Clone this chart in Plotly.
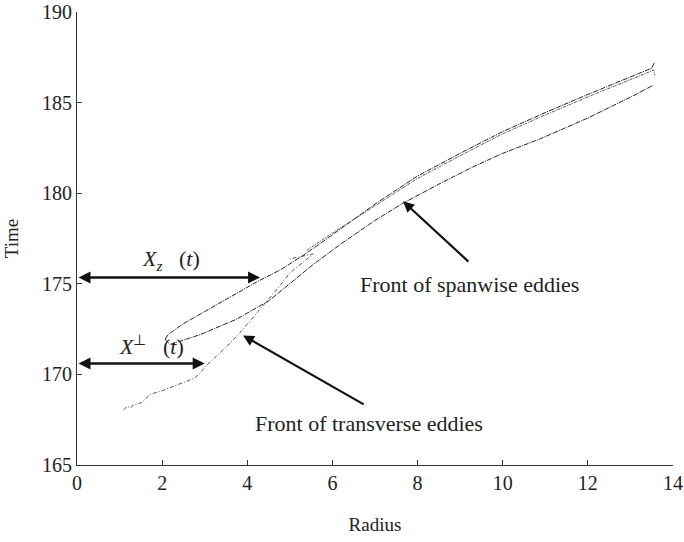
import plotly.graph_objects as go

# Front of transverse eddies (thin dashed curve)
trans_x = [1.10, 1.18, 1.25, 1.32, 1.52, 1.72, 2.00, 2.34, 2.77, 3.13, 3.50, 3.83, 4.30, 4.77, 5.00, 5.30, 5.55, 4.95]
trans_t = [168.05, 168.25, 168.15, 168.30, 168.45, 168.90, 169.10, 169.40, 169.80, 170.70, 171.50, 172.30, 173.60, 174.90, 175.60, 176.20, 176.65, 176.35]

# Front of spanwise eddies: upper branch (from loop tip to far end)
span_up_x = [2.07, 2.14, 2.50, 3.28, 4.22, 4.80, 5.30, 5.70, 6.20, 7.00, 8.00, 9.00, 10.00, 11.00, 12.00, 13.00, 13.50, 13.57]
span_up_t = [171.95, 172.20, 172.80, 173.85, 175.10, 175.80, 176.55, 177.20, 178.05, 179.40, 180.95, 182.20, 183.40, 184.45, 185.45, 186.40, 186.90, 187.25]

# Second (doubled) upper line
span_up2_x = [5.40, 6.00, 7.00, 8.00, 9.00, 10.00, 11.00, 12.00, 13.00, 13.55, 13.57]
span_up2_t = [176.85, 177.80, 179.30, 180.82, 182.07, 183.28, 184.32, 185.32, 186.27, 186.80, 186.50]

# Lower branch of loop, continuing as the lower front line
span_lo_x = [2.07, 2.18, 2.90, 3.75, 4.50, 5.07, 5.54, 6.20, 7.00, 7.66, 8.50, 9.30, 10.00, 10.88, 12.00, 13.00, 13.53]
span_lo_t = [171.95, 171.65, 172.20, 173.05, 174.05, 175.15, 176.05, 177.20, 178.50, 179.45, 180.50, 181.45, 182.20, 183.00, 184.15, 185.30, 185.95]

x_ticks = [0, 2, 4, 6, 8, 10, 12, 14]
y_ticks = [165, 170, 175, 180, 185, 190]

# Arrow / label positions (data coords)
xz_level = 175.35
xz_end = 4.3
xp_level = 170.6
xp_end = 3.0

fig = go.Figure()
fig.add_trace(go.Scatter(x=trans_x, y=trans_t, mode="lines",
                         line=dict(color="#555555", width=1, dash="4px,2px,1px,2px"),
                         showlegend=False, hoverinfo="skip"))
fig.add_trace(go.Scatter(x=span_up_x, y=span_up_t, mode="lines",
                         line=dict(color="#222222", width=1, dash="5px,1px,1px,1px"),
                         showlegend=False, hoverinfo="skip"))
fig.add_trace(go.Scatter(x=span_up2_x, y=span_up2_t, mode="lines",
                         line=dict(color="#555555", width=1, dash="3px,1px,1px,1px"),
                         showlegend=False, hoverinfo="skip"))
fig.add_trace(go.Scatter(x=span_lo_x, y=span_lo_t, mode="lines",
                         line=dict(color="#222222", width=1, dash="5px,1px,1px,1px"),
                         showlegend=False, hoverinfo="skip"))

font = dict(family="Liberation Serif", size=22, color="#222222")

# Double-headed arrows
for lvl, xe in [(xz_level, xz_end), (xp_level, xp_end)]:
    fig.add_annotation(x=xe, y=lvl, ax=0.0, ay=lvl, xref="x", yref="y", axref="x", ayref="y",
                       text="", showarrow=True, arrowhead=2, startarrowhead=2,
                       arrowside="end+start", arrowsize=1.0, startarrowsize=1.0,
                       arrowwidth=2.4, arrowcolor="#111111")

fig.add_annotation(x=2.2, y=176.3, xref="x", yref="y",
                   text="<i>X<sub>z</sub></i>&nbsp;&nbsp;&nbsp;(<i>t</i>)",
                   showarrow=False, font=font)
fig.add_annotation(x=1.75, y=171.6, xref="x", yref="y",
                   text="<i>X</i><sup>⊥</sup>&nbsp;&nbsp;&nbsp;(<i>t</i>)",
                   showarrow=False, font=font)

# Pointer arrows
fig.add_annotation(x=7.66, y=179.55, ax=9.23, ay=176.15, xref="x", yref="y", axref="x", ayref="y",
                   text="", showarrow=True, arrowhead=2, arrowsize=1.0, arrowwidth=2.2,
                   arrowcolor="#111111")
fig.add_annotation(x=3.9, y=172.15, ax=6.77, ay=168.3, xref="x", yref="y", axref="x", ayref="y",
                   text="", showarrow=True, arrowhead=2, arrowsize=1.0, arrowwidth=2.2,
                   arrowcolor="#111111")
fig.add_annotation(x=9.21, y=174.95, xref="x", yref="y", text="Front of spanwise eddies",
                   showarrow=False, font=font)
fig.add_annotation(x=6.85, y=167.3, xref="x", yref="y", text="Front of transverse eddies",
                   showarrow=False, font=font)

axis_common = dict(showgrid=False, zeroline=False, showline=True, linecolor="#333333", linewidth=1,
                   ticks="inside", ticklen=5, tickcolor="#333333", automargin=False,
                   ticklabeloverflow="allow",
                   tickfont=dict(family="Liberation Serif", size=20, color="#222222"))
fig.update_xaxes(range=[0, 14], tickvals=x_ticks, ticktext=[str(v) for v in x_ticks],
                 title=dict(text="Radius", font=dict(family="Liberation Serif", size=19, color="#222222"),
                            standoff=24), **axis_common)
fig.update_yaxes(range=[165, 190], tickvals=y_ticks, ticktext=[str(v) for v in y_ticks],
                 title=dict(text="Time", font=dict(family="Liberation Serif", size=19, color="#222222"),
                            standoff=18), **axis_common)
fig.update_layout(width=684, height=542, margin=dict(l=77, r=11, t=12, b=77),
                  plot_bgcolor="white", paper_bgcolor="white", hovermode=False)

# remove the default page margin so the figure sits at the top-left corner
fig.write_html("out.html", config={"displayModeBar": False, "staticPlot": True},
               post_script="document.body.style.margin='0';document.body.style.overflow='hidden';")
